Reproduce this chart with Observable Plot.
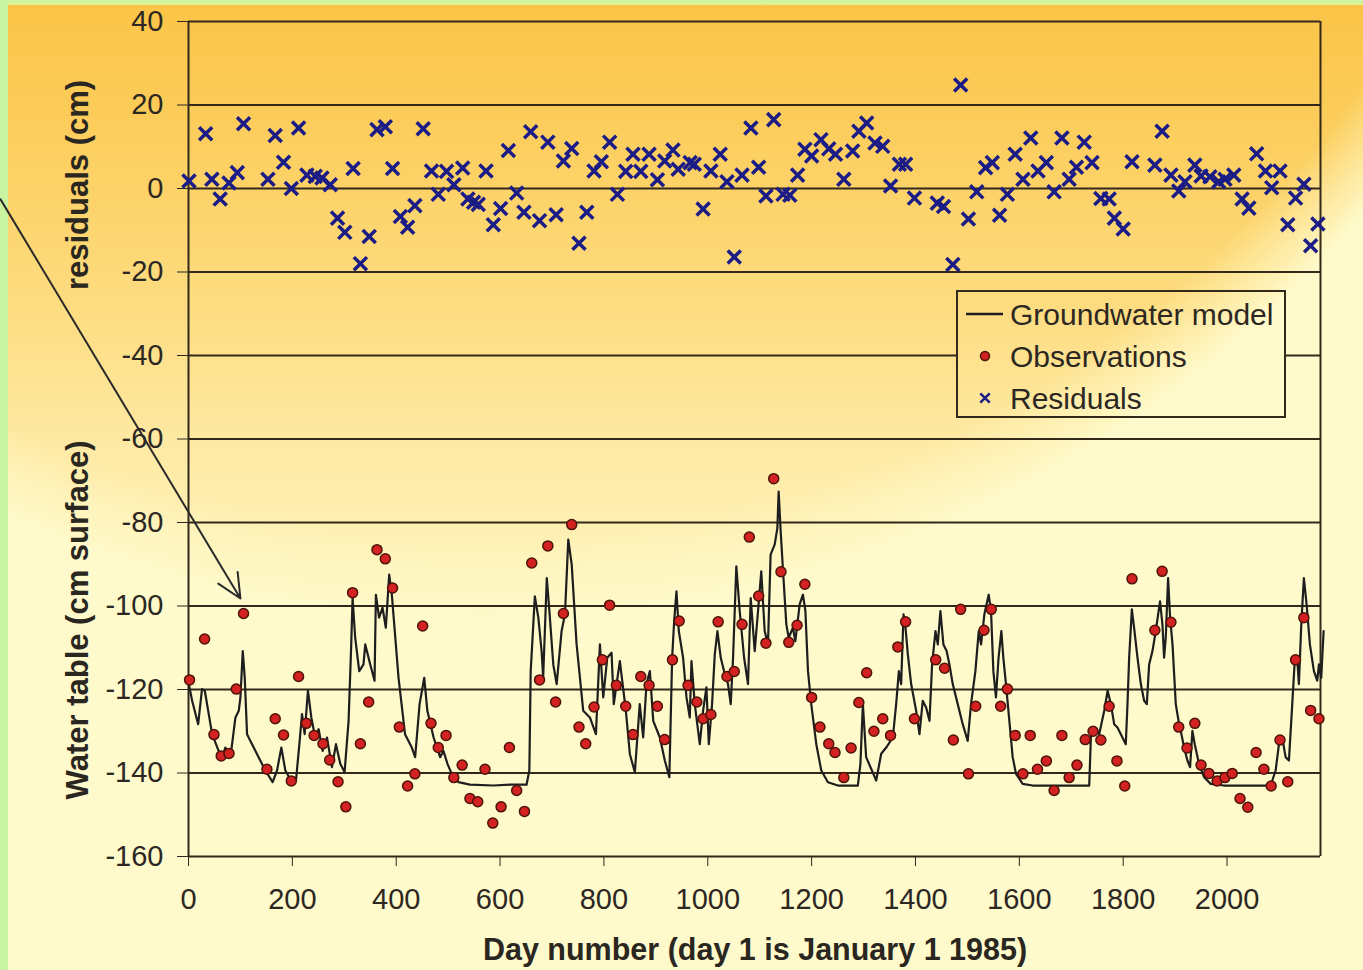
<!DOCTYPE html>
<html><head><meta charset="utf-8">
<script src="https://cdn.jsdelivr.net/npm/d3@7"></script>
<script src="https://cdn.jsdelivr.net/npm/@observablehq/plot@0.6"></script>
<style>html,body{margin:0;padding:0;background:#c9f5a3;overflow:hidden}#chart svg{display:block}</style>
</head><body><div id="chart"></div>
<script>
// ---------- data ----------
const residualDays = [1,33,45,61,78,94,106,153,167,183,198,212,228,244,257,273,287,301,317,331,348,363,379,393,408,422,436,452,468,481,497,511,528,538,549,558,573,587,601,616,632,646,659,676,692,708,722,738,752,767,781,795,811,826,842,856,871,887,903,917,933,943,
966,974,991,1006,1024,1037,1051,1066,1083,1098,1112,1127,1145,1158,1173,1187,1200,1218,1233,1246,1262,1279,1291,1306,1322,1337,1352,1369,1381,1398,1442,1454,1472,1487,1502,1518,1535,1548,1562,1577,1592,1607,1622,1636,1652,1667,1682,1696,1710,1725,1740,1757,1773,1783,1800,1817,1861,1875,1892,1907,1919,1938,1950,1967,1984,1996,2013,2029,2042,2057,2074,2086,2102,2117,2132,2148,2161,2175];
const residualValues = [1.8,13.1,2.2,-2.5,1.3,3.8,15.5,2.2,12.7,6.3,0,14.5,3.2,2.9,2.5,0.9,-7.1,-10.5,4.8,-18,-11.5,14.1,14.8,4.8,-6.7,-9.3,-4.1,14.3,4.2,-1.4,4.1,0.9,4.9,-2.5,-3.3,-3.8,4.2,-8.7,-4.8,9.1,-1.1,-5.7,13.6,-7.7,11.1,-6.3,6.6,9.6,-13.1,-5.7,4.2,6.4,11.1,-1.4,4.1,8.2,4.1,8.2,2.1,6.6,9.2,4.6,
6.2,5.8,-4.9,4.2,8.2,1.6,-16.4,3.2,14.5,5.1,-1.8,16.5,-1.4,-1.6,3.2,9.4,7.8,11.7,9.5,8.2,2.2,9.0,13.7,15.7,10.9,10.1,0.6,5.8,5.8,-2.3,-3.5,-4.3,-18.2,24.8,-7.3,-0.8,5.0,6.2,-6.4,-1.4,8.2,2.2,12.1,4.2,6.2,-0.8,12.1,2.2,5.1,11.1,6.2,-2.4,-2.5,-7.1,-9.7,6.4,5.6,13.7,3.2,-0.6,1.6,5.6,3.0,2.8,1.6,2.2,3.2,-2.5,-4.7,8.3,4.2,0.2,4.2,-8.7,-2.3,1.0,-13.7,-8.5];

const observationDays = [2,31,49,63,78,92,106,151,167,183,198,212,227,242,259,272,288,303,316,331,347,363,379,393,406,422,436,451,467,481,496,511,527,542,557,571,586,602,618,632,647,661,676,692,707,722,738,752,765,781,797,811,824,842,856,871,887,903,917,932,
945,962,979,991,1006,1020,1037,1051,1066,1080,1098,1112,1127,1141,1156,1172,1187,1200,1216,1233,1245,1262,1276,1291,1306,1320,1337,1352,1366,1381,1398,1439,1456,1473,1487,1502,1516,1532,1546,1564,1577,1592,1607,1621,1635,1652,1667,1682,1696,1711,1727,1742,1757,1773,1788,1803,1817,1861,1875,1892,1907,1923,1938,1950,1965,1981,1996,2010,2025,2040,2056,2071,2085,2102,2117,2132,2148,2161,2177];
const observationValues = [-117.7,-107.9,-130.8,-135.9,-135.3,-119.9,-101.8,-139.1,-127,-130.9,-141.9,-116.9,-128.1,-131,-133,-136.9,-142.1,-148.1,-96.8,-133,-123,-86.5,-88.7,-95.7,-129,-143.1,-140.2,-104.8,-128.1,-133.9,-131,-141.1,-138.1,-146.1,-146.9,-139.1,-152,-148.1,-133.9,-144.2,-149.2,-89.7,-117.7,-85.6,-123,-101.8,-80.5,-129,-133,-124.2,-112.9,-99.8,-119,-124,-130.8,-116.9,-119,-124,-132,-112.9,
-103.6,-119,-123,-127,-126,-103.8,-116.9,-115.7,-104.4,-83.5,-97.6,-108.9,-69.5,-91.8,-108.7,-104.6,-94.8,-121.9,-129,-133,-135.1,-141.1,-134,-123.1,-116,-130,-127,-131,-109.8,-103.8,-127,-112.9,-114.9,-132.1,-100.8,-140.2,-124,-105.8,-100.8,-124,-119.9,-131,-140.2,-131,-139.1,-137.1,-144.2,-131,-141.1,-138.1,-132,-130,-132.1,-124,-137.1,-143.1,-93.5,-105.8,-91.7,-103.9,-129,-134,-128.1,-138.1,-140.1,-141.9,-141.1,-140.1,-146.1,-148.2,-135.1,-139.1,-143.1,-132.1,-142.1,-112.9,-102.8,-125,-127];

const modelDays = [0.6,7,18.6,26,31.4,45.5,58,66,71,80.8,90.4,96.8,100,104.5,108.3,112.8,119,125.6,135,148,162,170.5,178.8,186.5,199.3,207,213.5,218.6,223.7,230,236.5,244,250.6,258.3,266.7,276.3,284,292.3,300.6,308.3,313.4,316,321,328.8,337,340.4,350,358.3,360.9,367,373.7,380,386.5,391.6,404.5,417,430,
436.5,445,454,460,472,484.6,491,498.7,507,520,542,587,619,651,656.4,659,667,673.7,680,683,690,695,702.5,709,718.5,725,731.4,738,747.4,760.2,773,784.6,792.3,798.7,806.4,814.7,819,830.7,842.3,850,859.6,
869,875.6,882,888.5,895,907.7,917.3,926,931.4,935.3,939.7,944.2,952.5,959,965.4,968.6,975,984.6,991,997.4,1002,1008.3,1013.5,1018.6,1025,1031.4,1039,1044.2,1048.7,1055,1061.5,1070,1077.5,1082.7,1090.4,1096.8,1103,1109.6,1116,1121,1128.8,1134,1136.5,1140.4,1145,1151.3,1155.8,1164,1168.6,1177,1183.3,1188,1193,1199.3,1209,1218.6,1231.4,1250.6,1289,1294,1298.7,
1305,1324.4,1334,1343.6,1356.4,1362.8,1368,1372.4,1377,1380.8,1385.3,1391.7,1401.3,1407.7,1414,1420.5,1427,1432,1438.5,1443,1448,1453.8,1460,1465.4,1471.8,1481.4,1491,1500.6,1507,1515.4,1521.8,1526.3,1532.7,1541,1545.5,1550,1555,1560,1565.4,1569.2,1574.3,1580.8,1587.2,1593.6,1606.4,1625.6,1734.6,
1737.8,1744.2,1753.8,1763.5,1770,1776.3,1782.7,1789,1795.5,1805,1808.3,1811.5,1816.7,1821,1827.6,1834,1840.4,1845.5,1850,1856.4,1862.8,1867.3,1871,1875.6,1878.8,1882,1886.5,1890.4,1895,1901.3,1907.7,1912.2,1917.3,1923.7,1928.8,1933.3,1937.8,1946,1955.8,1968.6,1994,2084,2093.6,2100,2106.4,2112.8,2119.2,2125.6,2130,2135,2138.4,2143,2148,2153.2,2159.6,2167.3,2173.7,2177,2181.4,2186];
const modelValues = [-118.7,-122.7,-128.3,-119.9,-120.3,-130.7,-134.7,-135.8,-133.9,-136.2,-126.7,-125.1,-121.9,-110.8,-117.2,-130.7,-132.3,-133.9,-136.2,-139.4,-142.2,-139.4,-133.9,-139.4,-142.2,-141.8,-133.1,-125.9,-130.7,-120.3,-126.7,-131.5,-129.5,-134.7,-131.5,-138.6,-133.1,-137.8,-139.8,-127.5,-109.2,-98.1,-107.6,-115.6,-114,-109.2,-114,-117.9,-97.3,-102.8,-100.4,-105.2,-92.5,-97.3,-117.2,-130.7,-133.9,
-136.2,-123.5,-117.2,-125.1,-131.5,-136.2,-134.7,-137.8,-140.2,-142.2,-142.8,-143,-142.8,-142.8,-139.4,-115.6,-97.7,-102.8,-110.8,-117.2,-93.3,-101.2,-114,-118.7,-106,-102,-84.1,-90.1,-109.2,-125.1,-126.7,-130.7,-109.2,-121.9,-112.4,-111.2,-123.5,-113.2,-125.1,-135.5,-139.8,
-123.5,-131.5,-118.7,-115.6,-127.5,-131.5,-137,-141,-112.4,-103.6,-96.5,-106,-112.4,-121.9,-126.7,-113.2,-123.5,-133.1,-125.1,-119.5,-133.1,-123.5,-111.6,-106,-112.4,-115.6,-118.7,-123.5,-112.4,-90.5,-101.2,-112.4,-118.7,-98.1,-110.8,-101.2,-91.7,-106,-109.2,-87.7,-85.3,-81.4,-72.6,-82.1,-91.7,-104.4,-107.6,-105.2,-108.4,-99.6,-97.3,-101.2,-115.6,-123.5,-133.1,-139.4,-142.2,-143,-143,-137.8,-123.5,
-136.2,-141.8,-135.4,-133.9,-131.5,-123.5,-115.6,-118.7,-102,-105.2,-111.6,-118.7,-125.1,-130.7,-122.7,-124.3,-127.5,-114,-106,-109.2,-101.2,-109.2,-110.8,-114,-118.7,-123.5,-128.3,-132.3,-123.5,-115.6,-106,-109.2,-102,-97.3,-101.2,-115.6,-121.9,-112.4,-106,-112.4,-118.7,-127.5,-136.2,-140.2,-142.6,-143,-143,
-131.5,-129.1,-130.7,-125.1,-120.3,-123.5,-128.3,-129.1,-130.7,-133.1,-123.5,-112.4,-100.8,-105.2,-112.4,-118.7,-122.7,-123.5,-114,-110.8,-106,-102,-98.9,-104.4,-112.4,-107.6,-93.3,-102.8,-109.2,-123.5,-128.3,-130.7,-133.9,-137,-138.6,-129.9,-133.1,-137.8,-141,-142.6,-143,-143,-139.4,-133.1,-131.5,-136.2,-137,-123.5,-114,-112.4,-118.7,-104.4,-93.3,-99.6,-109.2,-115.6,-117.9,-114,-117.2,-106];

const xTicks = [0,200,400,600,800,1000,1200,1400,1600,1800,2000];
const yTicks = [-160,-140,-120,-100,-80,-60,-40,-20,0,20,40];
const xDomain = [0, 2180];
const yDomain = [-160, 40];
// annotation arrow (data units): from outside the frame to the observation near day 100
const arrowFromDay = -362, arrowFromLevel = -2.6, arrowToDay = 100, arrowToLevel = -98.2;
const legendLabels = ["Groundwater model", "Observations", "Residuals"];
const xTitle = "Day number (day 1 is January 1 1985)";
const yTitleTop = "residuals (cm)";
const yTitleBottom = "Water table (cm surface)";

// ---------- tables ----------
const residuals = residualDays.map((d, i) => ({day: d, value: residualValues[i]}));
const observations = observationDays.map((d, i) => ({day: d, value: observationValues[i]}));
const model = modelDays.map((d, i) => ({day: d, value: modelValues[i]}));
const arrowData = [{x1: arrowFromDay, y1: arrowFromLevel, x2: arrowToDay, y2: arrowToLevel}];

const ink = "#33291a";
const lineInk = "#1e1e1e";
const obsFill = "#d42222", obsStroke = "#4d1408";
const resInk = "#1c1c86";
const font = "'Liberation Sans', Arial, Helvetica, sans-serif";

const plot = Plot.plot({
  width: 1363, height: 970,
  marginLeft: 188, marginRight: 43, marginTop: 21, marginBottom: 114,
  style: {background: "transparent", fontFamily: font, fontSize: "29px", color: "#2c2722", overflow: "visible"},
  x: {domain: xDomain, ticks: xTicks, tickSize: 10, tickPadding: 22, tickFormat: d => String(d), label: null},
  y: {domain: yDomain, ticks: yTicks, tickSize: 11, tickPadding: 14, tickFormat: d => String(d), label: null},
  marks: [
    Plot.ruleY(yTicks, {stroke: ink, strokeWidth: 2}),
    Plot.ruleX(xDomain, {stroke: ink, strokeWidth: 2}),
    Plot.line(model, {x: "day", y: "value", stroke: lineInk, strokeWidth: 2.2, strokeLinejoin: "round"}),
    Plot.dot(observations, {x: "day", y: "value", r: 5, fill: obsFill, stroke: obsStroke, strokeWidth: 1.5}),
    Plot.dot(residuals, {x: "day", y: "value", symbol: "times", r: 6, stroke: resInk, strokeWidth: 3.5}),
    Plot.arrow(arrowData, {x1: "x1", y1: "y1", x2: "x2", y2: "y2", stroke: "#2b2b2b", strokeWidth: 2, headLength: 20, headAngle: 50})
  ]
});

document.getElementById("chart").appendChild(plot);

// ---------- background ----------
const svg = d3.select(plot);
const defs = svg.insert("defs", ":first-child");
const lg = defs.append("linearGradient").attr("id", "bgV").attr("gradientUnits", "userSpaceOnUse")
  .attr("x1", 0).attr("y1", 5).attr("x2", 0).attr("y2", 970);
[[0, "#fbc447"], [0.15, "#fccf60"], [0.31, "#fddc80"], [0.46, "#feeaa4"], [0.62, "#fef5c0"], [1, "#fffbd2"]]
  .forEach(([o, c]) => lg.append("stop").attr("offset", o).attr("stop-color", c));
const rg = defs.append("radialGradient").attr("id", "bgR").attr("gradientUnits", "userSpaceOnUse")
  .attr("cx", 484).attr("cy", -542).attr("r", 1160);
[[0, "#fff9c8", 0], [0.93, "#fff9c8", 0], [0.985, "#fff8c6", 0.8], [1, "#fffacc", 1]]
  .forEach(([o, c, a]) => rg.append("stop").attr("offset", o).attr("stop-color", c).attr("stop-opacity", a));
const tg = defs.append("linearGradient").attr("id", "bgT").attr("x1", 0).attr("y1", 0).attr("x2", 0).attr("y2", 1);
[[0, "#c9f5a3"], [1, "#e6ee8a"]].forEach(([o, c]) => tg.append("stop").attr("offset", o).attr("stop-color", c));

const bg = svg.insert("g", "defs + *");
bg.append("rect").attr("width", 1363).attr("height", 970).attr("fill", "#c9f5a3");
bg.append("rect").attr("x", 8).attr("y", 0).attr("width", 1355).attr("height", 6).attr("fill", "url(#bgT)");
bg.append("rect").attr("x", 8).attr("y", 5).attr("width", 1355).attr("height", 965).attr("fill", "url(#bgV)");
bg.append("rect").attr("x", 8).attr("y", 5).attr("width", 1355).attr("height", 965).attr("fill", "url(#bgR)");

// ---------- axis titles ----------
const titles = svg.append("g").attr("font-family", font).attr("font-weight", "bold").attr("fill", "#2a2620");
titles.append("text").attr("transform", "translate(88,185) rotate(-90)").attr("text-anchor", "middle")
  .attr("font-size", 31).text(yTitleTop);
titles.append("text").attr("transform", "translate(88,620) rotate(-90)").attr("text-anchor", "middle")
  .attr("font-size", 31).text(yTitleBottom);
titles.append("text").attr("x", 755).attr("y", 960).attr("text-anchor", "middle")
  .attr("font-size", 30.5).text(xTitle);

// ---------- legend ----------
const leg = svg.append("g").attr("font-family", font).attr("text-anchor", "start");
leg.append("rect").attr("x", 957).attr("y", 291).attr("width", 328).attr("height", 126).attr("fill", "url(#bgV)");
leg.append("rect").attr("x", 957).attr("y", 291).attr("width", 328).attr("height", 126).attr("fill", "url(#bgR)")
  .attr("stroke", ink).attr("stroke-width", 2);
const rowsY = [314, 356, 398];
leg.append("line").attr("x1", 966).attr("x2", 1003).attr("y1", rowsY[0]).attr("y2", rowsY[0])
  .attr("stroke", lineInk).attr("stroke-width", 2.5);
leg.append("circle").attr("cx", 985).attr("cy", rowsY[1]).attr("r", 4.5)
  .attr("fill", obsFill).attr("stroke", obsStroke).attr("stroke-width", 1.5);
leg.append("path").attr("transform", `translate(985,${rowsY[2]})`)
  .attr("d", d3.symbol(d3.symbolTimes, 60)()).attr("fill", "none").attr("stroke", resInk).attr("stroke-width", 2.5);
legendLabels.forEach((t, i) => {
  leg.append("text").attr("x", 1010).attr("y", rowsY[i]).attr("dy", "0.36em").attr("text-anchor", "start")
    .attr("font-size", 30).attr("fill", "#2c2722").text(t);
});
</script>
</body></html>
